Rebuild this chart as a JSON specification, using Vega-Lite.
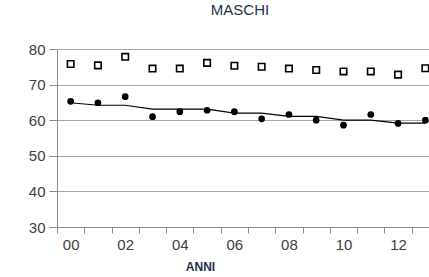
{
  "$schema": "https://vega.github.io/schema/vega-lite/v6.json",
  "autosize": "none",
  "padding": {"left": 57, "top": 49, "right": 0, "bottom": 50},
  "width": 382,
  "height": 178,
  "background": "white",
  "config": {
    "view": {"stroke": null},
    "font": "Liberation Sans",
    "axis": {"labelFont": "Liberation Sans", "titleFont": "Liberation Sans", "labelColor": "#404040", "titleColor": "#1f2f4f"},
    "axisY": {
      "title": null, "values": [30, 40, 50, 60, 70, 80], "labelFontSize": 15, "labelPadding": 4, "labelOverlap": false,
      "tickSize": 8, "tickColor": "#8c8c8c", "domainColor": "#8c8c8c",
      "grid": true, "gridColor": "#a6a6a6", "gridWidth": 1
    }
  },
  "title": {"text": "MASCHI", "fontSize": 15, "fontWeight": "normal", "color": "#1f2f4f", "offset": 24, "dx": -8, "font": "Liberation Sans"},
  "data": {
    "values": [
      {"anno": "00", "sq": 75.8, "dot": 65.3, "trend": 64.9},
      {"anno": "01", "sq": 75.4, "dot": 64.9, "trend": 64.2},
      {"anno": "02", "sq": 77.8, "dot": 66.6, "trend": 64.2},
      {"anno": "03", "sq": 74.5, "dot": 61.0, "trend": 63.1},
      {"anno": "04", "sq": 74.5, "dot": 62.4, "trend": 63.1},
      {"anno": "05", "sq": 76.1, "dot": 62.8, "trend": 63.1},
      {"anno": "06", "sq": 75.3, "dot": 62.4, "trend": 62.0},
      {"anno": "07", "sq": 75.0, "dot": 60.4, "trend": 62.0},
      {"anno": "08", "sq": 74.5, "dot": 61.6, "trend": 61.1},
      {"anno": "09", "sq": 74.1, "dot": 60.0, "trend": 61.1},
      {"anno": "10", "sq": 73.7, "dot": 58.6, "trend": 60.0},
      {"anno": "11", "sq": 73.7, "dot": 61.6, "trend": 60.0},
      {"anno": "12", "sq": 72.8, "dot": 59.1, "trend": 59.2},
      {"anno": "13", "sq": 74.6, "dot": 60.0, "trend": 59.2}
    ]
  },
  "encoding": {
    "x": {
      "field": "anno", "type": "ordinal", "sort": null,
      "scale": {"type": "band", "paddingInner": 0, "paddingOuter": 0},
      "axis": {
        "title": "ANNI", "titleFontSize": 12, "titleFontWeight": "bold", "titleX": 143, "titlePadding": 9,
        "labelAngle": 0, "labelFontSize": 15, "labelPadding": 4, "labelOverlap": false,
        "labelExpr": "parseInt(datum.value, 10) % 2 == 0 ? datum.value : ''",
        "tickBand": "extent", "tickSize": 6, "tickColor": "#8c8c8c", "domainColor": "#8c8c8c",
        "grid": false
      }
    }
  },
  "layer": [
    {
      "mark": {"type": "line", "color": "black", "strokeWidth": 1.2},
      "encoding": {
        "y": {
          "field": "trend", "type": "quantitative",
          "scale": {"domain": [30, 80], "nice": false, "zero": false}
        }
      }
    },
    {
      "mark": {"type": "point", "shape": "square", "filled": false, "stroke": "black", "strokeWidth": 1.6, "size": 42, "opacity": 1},
      "encoding": {"y": {"field": "sq", "type": "quantitative"}}
    },
    {
      "mark": {"type": "circle", "color": "black", "size": 45, "opacity": 1},
      "encoding": {"y": {"field": "dot", "type": "quantitative"}}
    }
  ]
}
